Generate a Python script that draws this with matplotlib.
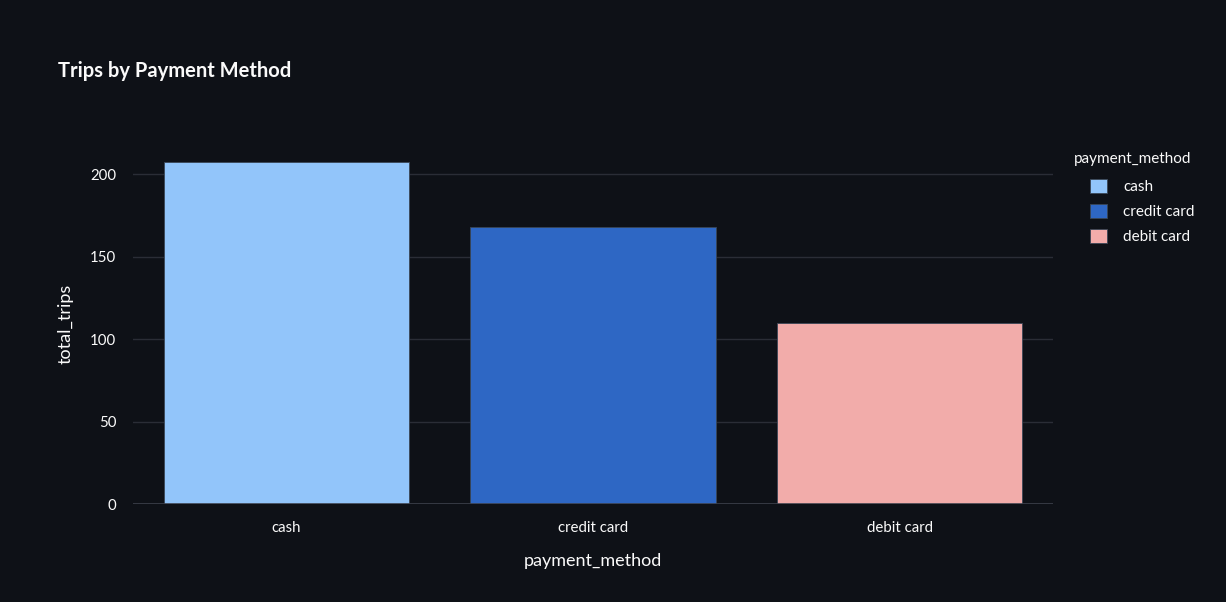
import matplotlib
matplotlib.use("Agg")
import matplotlib.pyplot as plt
from matplotlib.patches import Patch

categories = ["cash", "credit card", "debit card"]
total_trips = [207, 168, 110]
colors = ["#92c5fa", "#2e67c4", "#f2acaa"]
yticks = [0, 50, 100, 150, 200]

BG = "#0e1117"
TXT = "#fafafa"
GRID = "#2a2d36"

plt.rcParams['font.family'] = ['Lato', 'DejaVu Sans']

fig = plt.figure(figsize=(12.26, 6.02), dpi=100, facecolor=BG)
ax = fig.add_axes([133/1226, 1-504/602, 920/1226, (504-144.5)/602], facecolor=BG)

x = list(range(len(categories)))
bars = ax.bar(x, total_trips, width=0.8, color=colors, edgecolor="#3a4656", linewidth=0.6, zorder=3)

ax.set_xlim(-0.5, 2.5)
ax.set_ylim(0, max(total_trips) * 1.0526)
ax.set_yticks(yticks)
ax.set_xticks(x)
ax.set_xticklabels(categories)
ax.grid(axis='y', color=GRID, linewidth=1, zorder=0)
ax.axhline(0, color="#3b3f4a", linewidth=1.2, zorder=4)
for s in ax.spines.values():
    s.set_visible(False)
ax.tick_params(axis='both', length=0, colors=TXT, labelsize=10.8)
ax.tick_params(axis='y', pad=12)
ax.tick_params(axis='x', pad=12)

ax.set_xlabel("payment_method", color=TXT, fontsize=13, labelpad=13)
ax.set_ylabel("total_trips", color=TXT, fontsize=13, labelpad=12)

fig.text(58/1226, 1-71/602, "Trips by Payment Method", color=TXT, fontsize=14.5,
         fontweight='bold', va='center', ha='left')

fig.text(1074/1226, 1-159/602, "payment_method", color=TXT, fontsize=11,
         va='center', ha='left')

handles = [Patch(facecolor=c, edgecolor="#3a4656", linewidth=0.6, label=l) for c, l in zip(colors, categories)]
leg = fig.legend(handles=handles, loc='upper left',
                 bbox_to_anchor=(1079/1226, 1-168/602), frameon=False,
                 labelcolor=TXT, fontsize=11,
                 handlelength=1.1, handleheight=1.1, handletextpad=1.1,
                 labelspacing=0.62, borderpad=0.2)

fig.savefig("out.png", dpi=100, facecolor=BG)
